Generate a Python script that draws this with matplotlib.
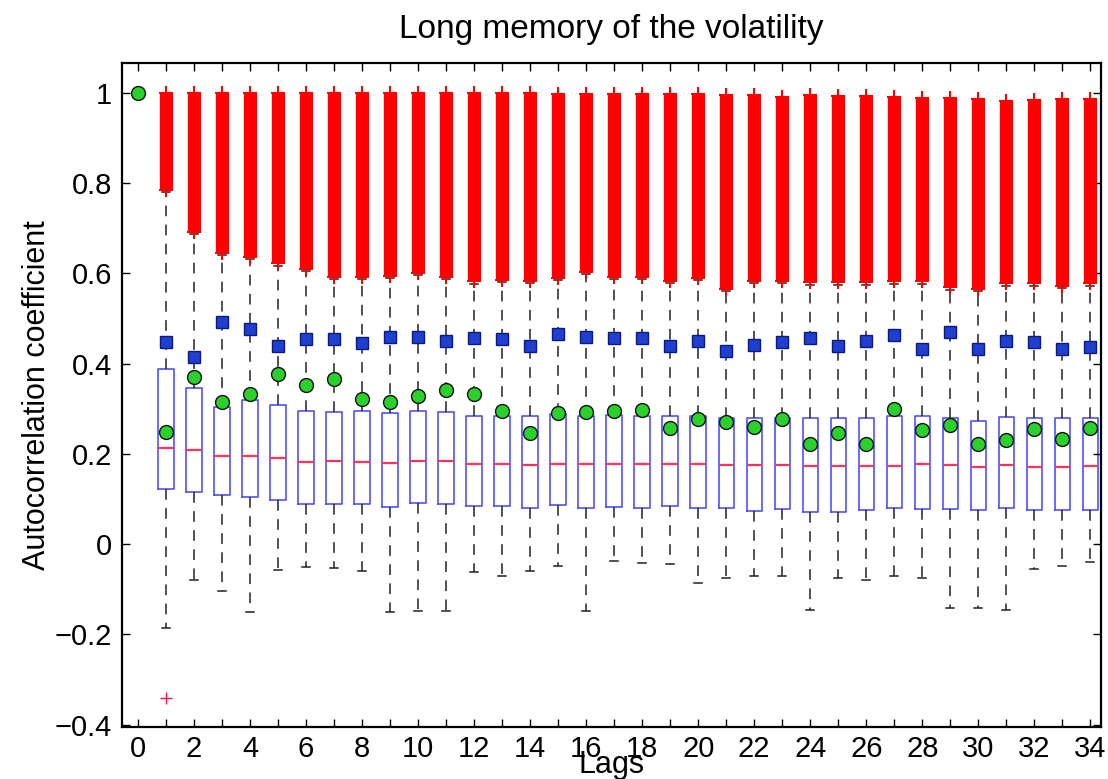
import matplotlib
matplotlib.use("Agg")
import matplotlib.pyplot as plt

plt.rcParams["font.family"] = ["Liberation Sans", "DejaVu Sans"]

# Lags 1..34 (lag 0 has only the sample value 1)
lags = list(range(1, 35))

q1 = [0.122, 0.115, 0.108, 0.104, 0.097, 0.088, 0.090, 0.090, 0.082, 0.091,
      0.090, 0.085, 0.084, 0.080, 0.086, 0.080, 0.082, 0.081, 0.085, 0.081,
      0.080, 0.073, 0.077, 0.072, 0.072, 0.075, 0.080, 0.079, 0.079, 0.076,
      0.081, 0.076, 0.076, 0.076]
median = [0.212, 0.208, 0.195, 0.195, 0.190, 0.183, 0.184, 0.183, 0.179, 0.184,
          0.184, 0.177, 0.178, 0.176, 0.178, 0.177, 0.178, 0.178, 0.178, 0.177,
          0.175, 0.175, 0.175, 0.173, 0.173, 0.173, 0.173, 0.177, 0.175, 0.172,
          0.175, 0.171, 0.171, 0.173]
q3 = [0.387, 0.345, 0.305, 0.319, 0.308, 0.296, 0.292, 0.294, 0.290, 0.294,
      0.292, 0.283, 0.285, 0.283, 0.288, 0.285, 0.286, 0.285, 0.285, 0.284,
      0.279, 0.279, 0.279, 0.279, 0.279, 0.279, 0.284, 0.284, 0.279, 0.273,
      0.281, 0.279, 0.279, 0.279]
whisker_low = [-0.186, -0.080, -0.104, -0.150, -0.057, -0.051, -0.053, -0.059, -0.150, -0.148,
               -0.148, -0.062, -0.070, -0.059, -0.048, -0.148, -0.037, -0.042, -0.044, -0.085,
               -0.074, -0.070, -0.070, -0.146, -0.076, -0.080, -0.071, -0.074, -0.142, -0.142,
               -0.146, -0.055, -0.048, -0.040]
whisker_high = [0.780, 0.687, 0.641, 0.632, 0.617, 0.605, 0.588, 0.588, 0.590, 0.596,
                0.588, 0.577, 0.580, 0.578, 0.585, 0.599, 0.588, 0.588, 0.579, 0.585,
                0.561, 0.579, 0.579, 0.575, 0.575, 0.575, 0.577, 0.577, 0.564, 0.561,
                0.573, 0.573, 0.568, 0.573]

# Range covered by the upper outliers of each lag
outlier_low = [0.785, 0.692, 0.646, 0.637, 0.622, 0.610, 0.593, 0.593, 0.595, 0.601,
               0.593, 0.582, 0.585, 0.583, 0.590, 0.604, 0.593, 0.593, 0.584, 0.590,
               0.566, 0.584, 0.584, 0.580, 0.580, 0.580, 0.582, 0.582, 0.569, 0.566,
               0.578, 0.578, 0.573, 0.578]
outlier_high = [1.000, 1.000, 1.000, 1.000, 1.000, 1.000, 1.000, 1.000, 1.000, 1.000,
                1.000, 1.000, 1.000, 1.000, 0.998, 0.998, 0.998, 0.998, 0.998, 0.998,
                0.995, 0.995, 0.990, 0.995, 0.993, 0.992, 0.990, 0.989, 0.988, 0.987,
                0.982, 0.985, 0.987, 0.987]
low_outlier_lag = [1]
low_outlier_val = [-0.340]

# Reference series
blue_lags = lags
blue_vals = [0.447, 0.414, 0.493, 0.476, 0.440, 0.455, 0.455, 0.445, 0.460, 0.460,
             0.450, 0.457, 0.455, 0.440, 0.466, 0.460, 0.457, 0.457, 0.440, 0.450,
             0.429, 0.442, 0.447, 0.457, 0.440, 0.450, 0.464, 0.432, 0.471, 0.432,
             0.450, 0.447, 0.432, 0.436]
green_lags = [0] + lags
green_vals = [1.000,
              0.248, 0.370, 0.314, 0.332, 0.378, 0.352, 0.367, 0.321, 0.314, 0.328,
              0.341, 0.333, 0.296, 0.247, 0.291, 0.293, 0.296, 0.298, 0.258, 0.278,
              0.270, 0.260, 0.277, 0.221, 0.247, 0.223, 0.300, 0.254, 0.263, 0.221,
              0.230, 0.256, 0.232, 0.258]

fig = plt.figure(figsize=(11.08, 7.79), dpi=100)
ax = fig.add_axes([122 / 1108, 1 - 727 / 779, (1101 - 122) / 1108, (727 - 63) / 779])

# upper outliers as dense red columns
ax.vlines(lags, outlier_low, outlier_high, colors="#ff0000", linewidth=9.5,
          zorder=2, capstyle="butt")
ax.plot(lags, outlier_low, linestyle="none", marker="+", color="#ff0000",
        markersize=10, markeredgewidth=1.5, zorder=2)
ax.plot(lags, outlier_high, linestyle="none", marker="+", color="#ff0000",
        markersize=10, markeredgewidth=1.5, zorder=2)
ax.plot(low_outlier_lag, low_outlier_val, linestyle="none", marker="+",
        color="#ff1040", markersize=9, markeredgewidth=1.0, zorder=2)

stats = []
for i in range(len(lags)):
    stats.append(dict(med=median[i], q1=q1[i], q3=q3[i],
                      whislo=whisker_low[i], whishi=whisker_high[i], fliers=[]))

ax.bxp(stats, positions=lags, widths=0.55, capwidths=0.28, showfliers=False,
       manage_ticks=False,
       boxprops=dict(color="#5050ff", linewidth=1.2),
       medianprops=dict(color="#ff3358", linewidth=1.6),
       whiskerprops=dict(color="#222222", linewidth=1.1, linestyle=(0, (7, 5.5))),
       capprops=dict(color="#222222", linewidth=1.1),
       zorder=1)

ax.plot(blue_lags, blue_vals, linestyle="none", marker="s", markersize=8,
        markerfacecolor="#1f3fd0", markeredgecolor="#0a1a80", markeredgewidth=1.0,
        zorder=4)
ax.plot(green_lags, green_vals, linestyle="none", marker="o", markersize=10,
        markerfacecolor="#2bd12b", markeredgecolor="#111111", markeredgewidth=1.0,
        zorder=5)

ax.set_xlim(-0.57, 34.38)
ax.set_ylim(-0.405, 1.066)

ax.set_xticks(range(0, 35, 2))
ax.set_xticks(range(1, 35, 2), minor=True)
ax.set_yticks([-0.4, -0.2, 0, 0.2, 0.4, 0.6, 0.8, 1.0])
ax.set_yticklabels(["\u22120.4", "\u22120.2", "0", "0.2", "0.4", "0.6", "0.8", "1"])

ax.tick_params(axis="both", which="both", direction="in", length=6, width=1,
               top=True, right=True, labelsize=21, pad=7)
ax.tick_params(axis="x", which="major", pad=6)

for sp in ax.spines.values():
    sp.set_linewidth(1.6)

ax.set_title("Long memory of the volatility", fontsize=24, pad=18)
ax.set_ylabel("Autocorrelation coefficient", fontsize=22)
ax.yaxis.set_label_coords(-0.072, 0.5)
ax.set_xlabel("Lags", fontsize=22)
ax.xaxis.set_label_coords(0.5, -0.035)

fig.savefig("out.png", dpi=100)
